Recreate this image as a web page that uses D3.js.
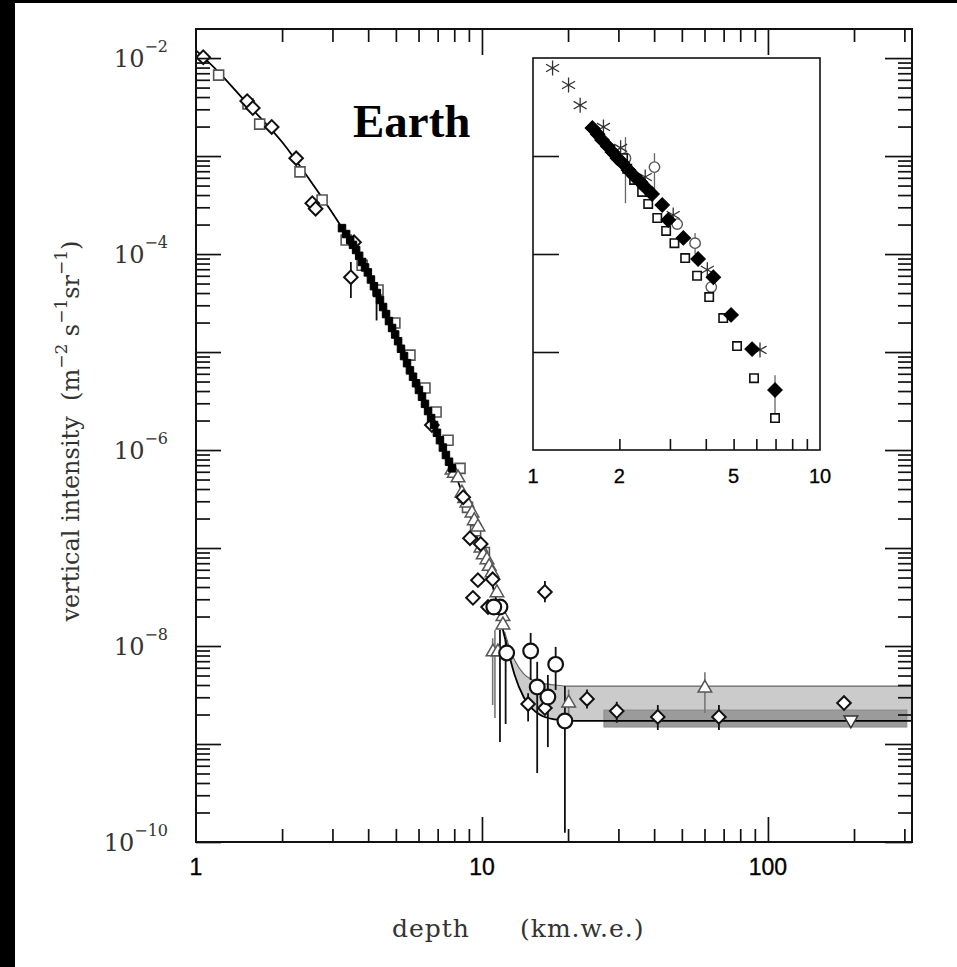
<!DOCTYPE html>
<html>
<head>
<meta charset="utf-8">
<script src="https://cdn.jsdelivr.net/npm/d3@7"></script>
<style>
  html, body { margin: 0; padding: 0; background: #fff; overflow: hidden; }
  svg { display: block; }
</style>
</head>
<body>
<div id="chart-area"></div>
<script>
// ---- axis ticks / labels ----
const depthTicks = [1, 10, 100];
const intensityExponents = [-2, -4, -6, -8, -10];
const insetDepthLabels = [1, 2, 5, 10];
const insetIntensityTicks = [1e-6, 1e-7, 1e-8];

// ---- main plot data: [depth km.w.e., intensity m^-2 s^-1 sr^-1] ----
const openDiamonds = [
  [1.06, 1.02e-2], [1.51, 3.64e-3], [1.58, 3.09e-3], [1.84, 1.98e-3], [2.24, 9.5e-4],
  [2.55, 3.3e-4], [2.62, 2.9e-4], [3.48, 5.8e-5], [3.57, 1.32e-4], [6.68, 1.8e-6],
  [8.6, 3.3e-7], [9.08, 1.26e-7], [9.30, 3.1e-8], [9.68, 4.7e-8], [9.9, 1.1e-7],
  [10.5, 2.5e-8], [10.9, 4.8e-8], [14.5, 2.56e-9], [16.6, 2.33e-9], [16.6, 3.56e-8],
  [23.3, 2.88e-9], [29.6, 2.17e-9], [41.2, 1.89e-9], [67.4, 1.89e-9], [184.5, 2.62e-9]
];
const openSquares = [
  [1.20, 6.7e-3], [1.52, 3.4e-3], [1.67, 2.12e-3], [2.31, 6.9e-4], [2.76, 3.56e-4],
  [3.35, 1.39e-4], [3.81, 7.7e-5], [4.33, 4.3e-5], [4.96, 1.98e-5], [5.60, 9.3e-6],
  [6.32, 4.3e-6], [6.91, 2.44e-6], [7.61, 1.26e-6], [8.38, 6.5e-7], [8.9, 2.6e-7],
  [9.5, 1.5e-7], [10.2, 9.0e-8]
];
const filledSquares = [
  [3.24, 1.84e-4], [3.35, 1.60e-4], [3.46, 1.39e-4], [3.54, 1.24e-4], [3.63, 1.10e-4],
  [3.72, 9.6e-5], [3.81, 8.3e-5], [3.90, 7.3e-5], [3.99, 6.5e-5], [4.09, 5.5e-5],
  [4.19, 4.7e-5], [4.29, 4.0e-5], [4.40, 3.4e-5], [4.51, 2.88e-5], [4.62, 2.44e-5],
  [4.73, 2.07e-5], [4.85, 1.76e-5], [4.97, 1.51e-5], [5.09, 1.29e-5], [5.21, 1.08e-5],
  [5.34, 9.1e-6], [5.47, 7.7e-6], [5.60, 6.5e-6], [5.74, 5.6e-6], [5.88, 4.8e-6],
  [6.02, 4.1e-6], [6.17, 3.5e-6], [6.32, 2.96e-6], [6.48, 2.5e-6], [6.64, 2.12e-6],
  [6.80, 1.8e-6], [6.96, 1.5e-6], [7.13, 1.26e-6], [7.30, 1.06e-6], [7.48, 8.9e-7],
  [7.67, 7.6e-7], [7.86, 6.5e-7]
];
const openTriangles = [
  [7.86, 6.25e-7], [8.0, 5.8e-7], [8.25, 5.2e-7], [8.51, 3.64e-7], [8.7, 3.2e-7],
  [8.86, 2.88e-7], [9.23, 2.28e-7], [9.4, 1.9e-7], [9.68, 1.64e-7], [9.92, 1.0e-7],
  [10.1, 8.5e-8], [10.41, 7.6e-8], [10.6, 6.5e-8], [10.84, 5.6e-8], [11.28, 3.5e-8],
  [11.84, 2.0e-8], [11.84, 1.64e-8], [10.93, 8.7e-9], [11.37, 8.7e-9], [20.1, 2.62e-9],
  [60.2, 3.72e-9]
];
const openCircles = [
  [11.56, 2.5e-8], [11.0, 2.5e-8], [12.2, 8.5e-9], [14.8, 8.9e-9], [15.6, 3.82e-9],
  [17.0, 3.02e-9], [18.1, 6.5e-9], [19.5, 1.72e-9]
];
const downTriangles = [[195, 1.76e-9]];

// error bars: [depth, low, high]
const errorBars = [
  [3.48, 3.56e-5, 8.3e-5], [4.28, 2.1e-5, 4.3e-5], [11.56, 1.05e-9, 1.46e-8],
  [12.1, 1.6e-9, 1.15e-8], [14.8, 4.5e-9, 1.36e-8], [15.6, 5.06e-10, 6.9e-9],
  [17.0, 9.3e-10, 5.06e-9], [18.1, 3.56e-9, 9.8e-9], [19.5, 1.24e-10, 3.9e-9],
  [14.5, 1.7e-9, 3.3e-9], [16.6, 2.8e-8, 4.6e-8], [23.3, 2.3e-9, 3.6e-9],
  [29.6, 1.65e-9, 2.7e-9], [41.2, 1.39e-9, 2.5e-9], [67.4, 1.39e-9, 2.5e-9]
];
const errorBarsGray = [
  [11.1, 1.84e-9, 1.46e-8], [10.9, 2.5e-9, 1.2e-8], [20.1, 1.7e-9, 3.6e-9],
  [60.2, 2.07e-9, 5.4e-9]
];

// fitted depth-intensity curve (its flat tail = vertical neutrino-induced floor)
const fitDepth = [1, 1.2, 1.5, 2, 2.5, 3, 3.5, 4, 5, 6, 7, 8, 9, 10, 11, 12, 12.5, 13, 14, 15, 16, 18, 20, 319];
const fitIntensity = [1.2e-2, 7.2e-3, 3.5e-3, 1.39e-3, 5.7e-4, 2.62e-4, 1.29e-4, 6.4e-5, 1.46e-5,
  4.3e-6, 1.46e-6, 6.0e-7, 2.33e-7, 8.9e-8, 3.7e-8, 1.24e-8, 7.7e-9, 5.1e-9, 3.0e-9, 2.28e-9,
  1.98e-9, 1.78e-9, 1.72e-9, 1.72e-9];
// neutrino band (upper edge = horizontal neutrino-induced muons)
const bandDepth = [12, 12.5, 13, 14, 15, 16, 18, 20, 319];
const bandLower = [1.24e-8, 7.7e-9, 5.1e-9, 3.0e-9, 2.28e-9, 1.98e-9, 1.78e-9, 1.72e-9, 1.72e-9];
const bandUpper = [1.4e-8, 9.5e-9, 7.2e-9, 5.2e-9, 4.5e-9, 4.2e-9, 4.0e-9, 3.9e-9, 3.9e-9];
// Super-K measurement band
const superKDepth = [26.7, 306];
const superKIntensity = [1.49e-9, 2.22e-9];

// ---- inset data ----
const insetAsterisks = [
  [1.17, 7.9e-6], [1.33, 5.3e-6], [1.46, 3.3e-6], [1.76, 1.98e-6], [2.02, 1.21e-6],
  [2.46, 6.1e-7], [3.08, 2.5e-7], [4.05, 6.9e-8], [6.18, 1.05e-8]
];
const insetDiamonds = [
  [1.61, 1.93e-6], [1.68, 1.67e-6], [1.74, 1.46e-6], [1.82, 1.26e-6], [1.89, 1.10e-6],
  [1.97, 9.5e-7], [2.05, 8.5e-7], [2.15, 7.2e-7], [2.25, 6.25e-7], [2.37, 5.4e-7],
  [2.48, 4.7e-7], [2.60, 4.1e-7], [2.82, 3.16e-7], [2.96, 2.22e-7], [3.34, 1.46e-7],
  [3.76, 8.9e-8], [4.25, 5.8e-8], [4.90, 2.39e-8], [5.80, 1.07e-8], [6.97, 4.1e-9]
];
const insetSquares = [
  [2.06, 9.5e-7], [2.13, 7.4e-7], [2.25, 5.7e-7], [2.40, 4.3e-7], [2.52, 3.24e-7],
  [2.71, 2.33e-7], [2.91, 1.72e-7], [3.11, 1.29e-7], [3.39, 9.1e-8], [3.73, 6.0e-8],
  [4.11, 3.64e-8], [4.60, 2.22e-8], [5.14, 1.15e-8], [5.89, 5.4e-9], [6.97, 2.12e-9]
];
const insetCircles = [
  [2.10, 9.5e-7], [2.65, 7.7e-7], [3.18, 2.02e-7], [3.67, 1.29e-7], [4.18, 4.6e-8]
];
const insetErrorBars = [
  [2.10, 3.3e-7, 1.56e-6], [2.65, 4.3e-7, 1.07e-6], [3.67, 1.0e-7, 1.64e-7],
  [6.97, 2.12e-9, 5.8e-9]
];

// ---------------------------------------------------------------
const W = 957, H = 967;
const frame = {left: 196, right: 912, top: 29, bottom: 842};
const inset = {left: 533, right: 820, top: 58, bottom: 450};

const svg = d3.select("#chart-area").append("svg")
  .attr("width", W).attr("height", H)
  .style("font-family", "'DejaVu Serif', serif");

svg.append("rect").attr("width", W).attr("height", H).attr("fill", "#fff");
// black edges of the scanned picture
svg.append("rect").attr("x", 0).attr("y", 0).attr("width", 15).attr("height", H).attr("fill", "#000");
svg.append("rect").attr("x", 0).attr("y", 0).attr("width", W).attr("height", 3).attr("fill", "#000");

const x = d3.scaleLog().domain([1, 319]).range([frame.left, frame.right]);
const y = d3.scaleLog().domain([1e-10, 0.0198]).range([frame.bottom, frame.top]);

svg.append("clipPath").attr("id", "plot-clip")
  .append("rect")
  .attr("x", frame.left).attr("y", frame.top)
  .attr("width", frame.right - frame.left).attr("height", frame.bottom - frame.top);

const plot = svg.append("g").attr("clip-path", "url(#plot-clip)");

// neutrino band
const bandRows = bandDepth.map((d, i) => ({d: d, lo: bandLower[i], hi: bandUpper[i]}));
plot.append("path")
  .datum(bandRows)
  .attr("d", d3.area().x(r => x(r.d)).y0(r => y(r.lo)).y1(r => y(r.hi)).curve(d3.curveMonotoneX))
  .attr("fill", "#cbcbcb");
plot.append("path")
  .datum(bandRows)
  .attr("d", d3.line().x(r => x(r.d)).y(r => y(r.hi)).curve(d3.curveMonotoneX))
  .attr("fill", "none").attr("stroke", "#666").attr("stroke-width", 1.2);

// Super-K band
plot.append("rect")
  .attr("x", x(superKDepth[0])).attr("width", x(superKDepth[1]) - x(superKDepth[0]))
  .attr("y", y(superKIntensity[1])).attr("height", y(superKIntensity[0]) - y(superKIntensity[1]))
  .attr("fill", "#9b9b9b").attr("stroke", "#8a8a8a").attr("stroke-width", 1);

// fit curve
plot.append("path")
  .datum(fitDepth.map((d, i) => [d, fitIntensity[i]]))
  .attr("d", d3.line().x(p => x(p[0])).y(p => y(p[1])).curve(d3.curveMonotoneX))
  .attr("fill", "none").attr("stroke", "#000").attr("stroke-width", 1.8);

// error bars
function drawErrors(g, data, xs, ys, color, width) {
  g.selectAll(null).data(data).enter().append("line")
    .attr("x1", e => xs(e[0])).attr("x2", e => xs(e[0]))
    .attr("y1", e => ys(e[1])).attr("y2", e => ys(e[2]))
    .attr("stroke", color).attr("stroke-width", width);
}
drawErrors(plot, errorBarsGray, x, y, "#777", 1.6);
drawErrors(plot, errorBars, x, y, "#111", 1.8);

// markers
function drawMarks(g, data, xs, ys, symbol, size, rot, fill, stroke, sw) {
  g.selectAll(null).data(data).enter().append("path")
    .attr("d", d3.symbol().type(symbol).size(size))
    .attr("transform", p => "translate(" + xs(p[0]) + "," + ys(p[1]) + ") rotate(" + rot + ")")
    .attr("fill", fill).attr("stroke", stroke).attr("stroke-width", sw);
}
drawMarks(plot, openSquares, x, y, d3.symbolSquare, 100, 0, "#fff", "#555", 1.6);
drawMarks(plot, openTriangles, x, y, d3.symbolTriangle, 80, 0, "#fff", "#555", 1.5);
drawMarks(plot, openDiamonds, x, y, d3.symbolSquare, 92, 45, "#fff", "#111", 2);
drawMarks(plot, filledSquares, x, y, d3.symbolSquare, 56, 0, "#000", "#000", 1);
drawMarks(plot, openCircles, x, y, d3.symbolCircle, 170, 0, "#fff", "#111", 2.2);
drawMarks(plot, downTriangles, x, y, d3.symbolTriangle, 80, 180, "#fff", "#333", 1.5);

// ---- main axes (ticks inside on all four sides) ----
const xMinor = x.ticks(30).filter(v => !depthTicks.includes(v) && v > 1);
const yAll = y.ticks(40);
const yMajor = yAll.filter(v => Math.abs(Math.log10(v) - Math.round(Math.log10(v))) < 1e-6);
const yMinor = yAll.filter(v => !yMajor.includes(v));

const axesG = svg.append("g").attr("class", "axes");
function addAxis(axisFn, scale, values, size, tx, ty) {
  axesG.append("g")
    .attr("transform", "translate(" + tx + "," + ty + ")")
    .call(axisFn(scale).tickValues(values).tickSize(size).tickSizeOuter(0).tickFormat(""))
    .call(g => g.select(".domain").remove())
    .call(g => g.selectAll(".tick line").attr("stroke", "#111").attr("stroke-width", 1.7));
}
addAxis(d3.axisBottom, x, depthTicks.filter(v => v > 1), -25, 0, frame.bottom);
addAxis(d3.axisBottom, x, xMinor, -13, 0, frame.bottom);
addAxis(d3.axisTop, x, depthTicks.filter(v => v > 1), -26, 0, frame.top);
addAxis(d3.axisTop, x, xMinor, -13, 0, frame.top);
addAxis(d3.axisLeft, y, yMajor, -25, frame.left, 0);
addAxis(d3.axisLeft, y, yMinor, -14, frame.left, 0);
addAxis(d3.axisRight, y, yMajor, -27, frame.right, 0);
addAxis(d3.axisRight, y, yMinor, -14, frame.right, 0);

svg.append("rect")
  .attr("x", frame.left).attr("y", frame.top)
  .attr("width", frame.right - frame.left).attr("height", frame.bottom - frame.top)
  .attr("fill", "none").attr("stroke", "#111").attr("stroke-width", 2);

// x tick labels
svg.append("g").selectAll("text").data(depthTicks).enter().append("text")
  .attr("x", d => x(d)).attr("y", frame.bottom + 33)
  .attr("text-anchor", "middle")
  .style("font-family", "'Liberation Sans', Arial, sans-serif")
  .style("font-size", "23px").attr("fill", "#000")
  .attr("stroke", "#000").attr("stroke-width", 0.35)
  .text(d => d3.format("d")(d));

// y tick labels 10^n
svg.append("g").selectAll("text").data(intensityExponents).enter().append("text")
  .attr("x", 168).attr("y", e => y(Math.pow(10, e)) + 9)
  .attr("text-anchor", "end")
  .style("font-size", "24px").attr("fill", "#333")
  .each(function(e) {
    const t = d3.select(this);
    t.append("tspan").text("10");
    t.append("tspan").attr("dy", -15).style("font-size", "16px").text("\u2212" + Math.abs(e));
  });

// axis titles
const xTitle = svg.append("text")
  .attr("y", 937)
  .style("font-size", "25px").style("letter-spacing", "1px").attr("fill", "#333");
xTitle.append("tspan").attr("x", 392).text("depth");
xTitle.append("tspan").attr("x", 520).text("(km.w.e.)");

const yTitle = svg.append("text")
  .attr("transform", "translate(79,431) rotate(-90)")
  .attr("text-anchor", "middle")
  .style("font-size", "24px").attr("fill", "#333")
  .attr("xml:space", "preserve");
yTitle.append("tspan").text("vertical intensity  (m");
yTitle.append("tspan").attr("dy", -12).style("font-size", "17px").text("\u22122");
yTitle.append("tspan").attr("dy", 12).text(" s");
yTitle.append("tspan").attr("dy", -12).style("font-size", "17px").text("\u22121");
yTitle.append("tspan").attr("dy", 12).text("sr");
yTitle.append("tspan").attr("dy", -12).style("font-size", "17px").text("\u22121");
yTitle.append("tspan").attr("dy", 12).text(")");

// "Earth" tag
svg.append("text")
  .attr("x", 353).attr("y", 137)
  .style("font-family", "'Liberation Serif', 'Times New Roman', serif")
  .style("font-weight", "bold").style("font-size", "47px").attr("fill", "#000")
  .text("Earth");

// ---- inset ----
const ix = d3.scaleLog().domain([1, 10]).range([inset.left, inset.right]);
const iy = d3.scaleLog().domain([1e-9, 1e-5]).range([inset.bottom, inset.top]);

const insetG = svg.append("g");
insetG.append("rect")
  .attr("x", inset.left).attr("y", inset.top)
  .attr("width", inset.right - inset.left).attr("height", inset.bottom - inset.top)
  .attr("fill", "#fff");

drawErrors(insetG, insetErrorBars, ix, iy, "#666", 1.3);
drawMarks(insetG, insetAsterisks, ix, iy, d3.symbolAsterisk, 160, 0, "none", "#333", 1.3);
drawMarks(insetG, insetCircles, ix, iy, d3.symbolCircle, 85, 0, "#fff", "#555", 1.4);
drawMarks(insetG, insetSquares, ix, iy, d3.symbolSquare, 70, 0, "#fff", "#111", 1.6);
drawMarks(insetG, insetDiamonds, ix, iy, d3.symbolSquare, 105, 45, "#000", "#000", 1);

insetG.append("g")
  .attr("transform", "translate(0," + inset.bottom + ")")
  .call(d3.axisBottom(ix).tickValues(ix.ticks(10).filter(v => v > 1 && v < 10)).tickSize(-11).tickSizeOuter(0).tickFormat(""))
  .call(g => g.select(".domain").remove())
  .call(g => g.selectAll(".tick line").attr("stroke", "#111").attr("stroke-width", 1.6));
insetG.append("g")
  .attr("transform", "translate(" + inset.left + ",0)")
  .call(d3.axisLeft(iy).tickValues(insetIntensityTicks).tickSize(-26).tickSizeOuter(0).tickFormat(""))
  .call(g => g.select(".domain").remove())
  .call(g => g.selectAll(".tick line").attr("stroke", "#111").attr("stroke-width", 1.6));

insetG.append("rect")
  .attr("x", inset.left).attr("y", inset.top)
  .attr("width", inset.right - inset.left).attr("height", inset.bottom - inset.top)
  .attr("fill", "none").attr("stroke", "#111").attr("stroke-width", 1.6);

insetG.selectAll(".ilabel").data(insetDepthLabels).enter().append("text")
  .attr("x", d => ix(d)).attr("y", inset.bottom + 33)
  .attr("text-anchor", "middle")
  .style("font-family", "'Liberation Sans', Arial, sans-serif")
  .style("font-size", "20px").attr("fill", "#000")
  .attr("stroke", "#000").attr("stroke-width", 0.3)
  .text(d => d);
</script>
</body>
</html>
